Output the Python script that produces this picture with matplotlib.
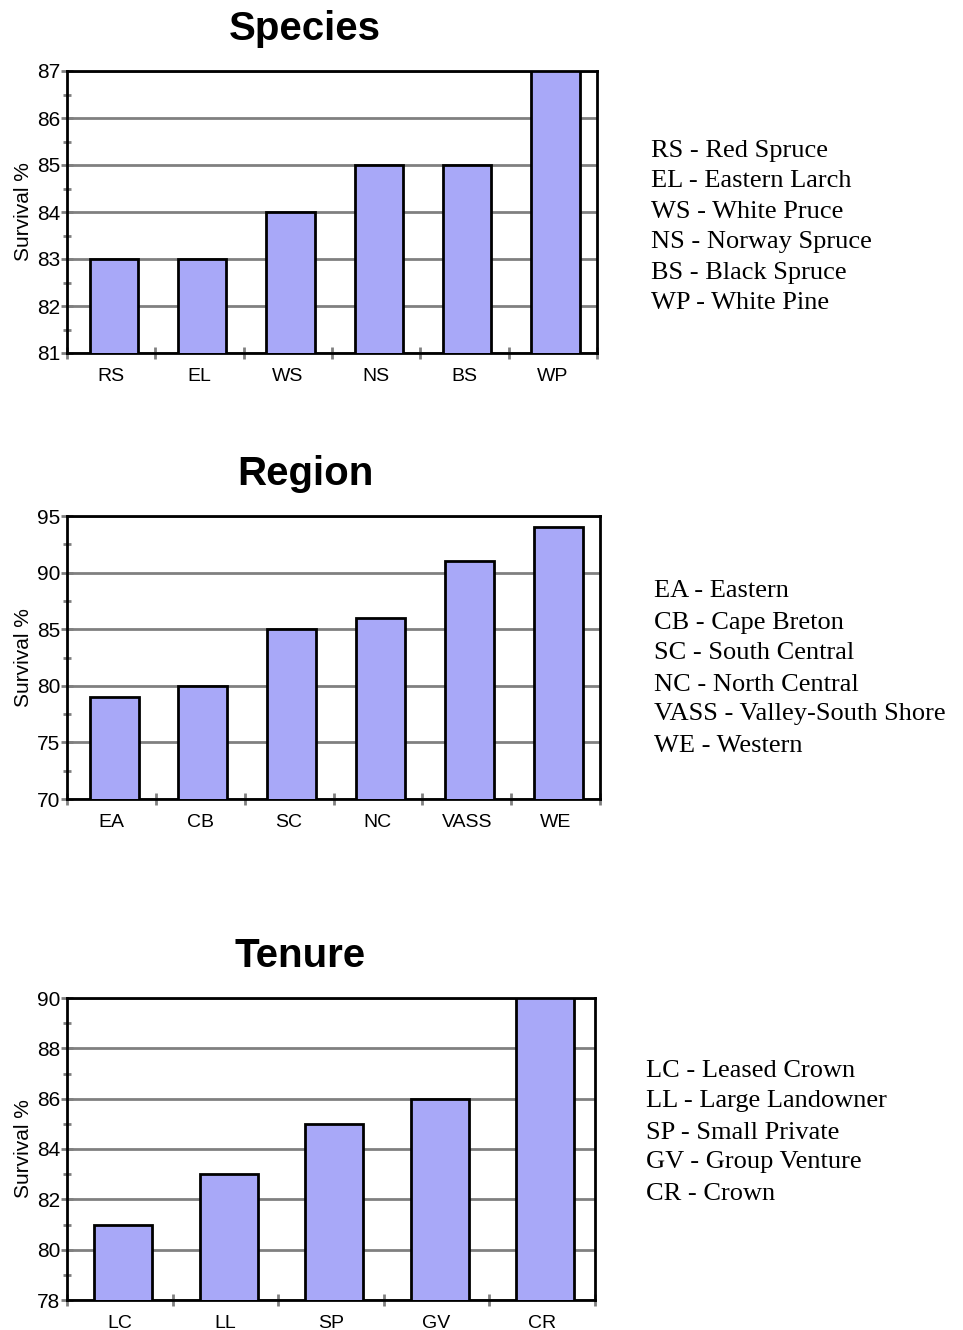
import numpy as np
import matplotlib.pyplot as plt
from matplotlib.ticker import MultipleLocator

# data
species = ['RS', 'EL', 'WS', 'NS', 'BS', 'WP']
species_vals = [83, 83, 84, 85, 85, 87]
species_names = ['RS - Red Spruce', 'EL - Eastern Larch', 'WS - White Pruce',
                 'NS - Norway Spruce', 'BS - Black Spruce', 'WP - White Pine']

region = ['EA', 'CB', 'SC', 'NC', 'VASS', 'WE']
region_vals = [79, 80, 85, 86, 91, 94]
region_names = ['EA - Eastern', 'CB - Cape Breton', 'SC - South Central',
                'NC - North Central', 'VASS - Valley-South Shore', 'WE - Western']

tenure = ['LC', 'LL', 'SP', 'GV', 'CR']
tenure_vals = [81, 83, 85, 86, 90]
tenure_names = ['LC - Leased Crown', 'LL - Large Landowner', 'SP - Small Private',
                'GV - Group Venture', 'CR - Crown']

W, H = 963, 1330
fig = plt.figure(figsize=(W / 100, H / 100), dpi=100)

bar_color = '#a8a8f8'
grid_color = '#808080'


def panel(rect, title, title_xy, cats, vals, ylim, major, minor, names, leg_x, leg_ys):
    l, t, r, b = rect
    ax = fig.add_axes([l / W, 1 - b / H, (r - l) / W, (b - t) / H])
    x = np.arange(len(cats))
    ax.bar(x + 0.03, vals, width=0.55, color=bar_color, edgecolor='black', linewidth=2, zorder=3)
    ax.set_xlim(-0.5, len(cats) - 0.5)
    ax.set_ylim(*ylim)
    ax.yaxis.set_major_locator(MultipleLocator(major))
    ax.yaxis.set_minor_locator(MultipleLocator(minor))
    ax.set_xticks(x)
    ax.set_xticklabels(cats, family='Liberation Sans', fontsize=14)
    ax.set_xticks(np.arange(len(cats) + 1) - 0.5, minor=True)
    ax.tick_params(axis='x', which='major', length=0, pad=11)
    ax.tick_params(axis='x', which='minor', length=8, width=2, color=grid_color, direction='inout')
    ax.tick_params(axis='y', which='major', length=8, width=2, color=grid_color,
                   direction='inout', pad=1, labelsize=15)
    ax.tick_params(axis='y', which='minor', length=6, width=2, color=grid_color, direction='inout')
    for lab in ax.get_yticklabels():
        lab.set_family('Liberation Sans')
    ax.yaxis.grid(True, which='major', color=grid_color, linewidth=2, zorder=0)
    ax.set_axisbelow(True)
    for s in ax.spines.values():
        s.set_linewidth(2)
        s.set_color('black')
    ax.set_ylabel('Survival %', family='Liberation Sans', fontsize=15, labelpad=3)
    fig.text(title_xy[0] / W, 1 - title_xy[1] / H, title, ha='center', va='center',
             family='Liberation Sans', weight='bold', fontsize=29)
    for name, y in zip(names, leg_ys):
        fig.text(leg_x / W, 1 - y / H, name, ha='left', va='center',
                 family='Liberation Serif', fontsize=19)
    return ax


panel((67, 71, 597, 353), 'Species', (305, 29), species, species_vals, (81, 87), 1, 0.5,
      species_names, 651, [151, 181, 212, 242, 273, 303])
panel((67, 516, 600, 799), 'Region', (305, 474), region, region_vals, (70, 95), 5, 2.5,
      region_names, 654, [591, 623, 653, 685, 714, 746])
panel((67, 998, 595, 1300), 'Tenure', (300, 956), tenure, tenure_vals, (78, 90), 2, 1,
      tenure_names, 646, [1071, 1101, 1133, 1162, 1194])

fig.savefig('out.png', dpi=100)
